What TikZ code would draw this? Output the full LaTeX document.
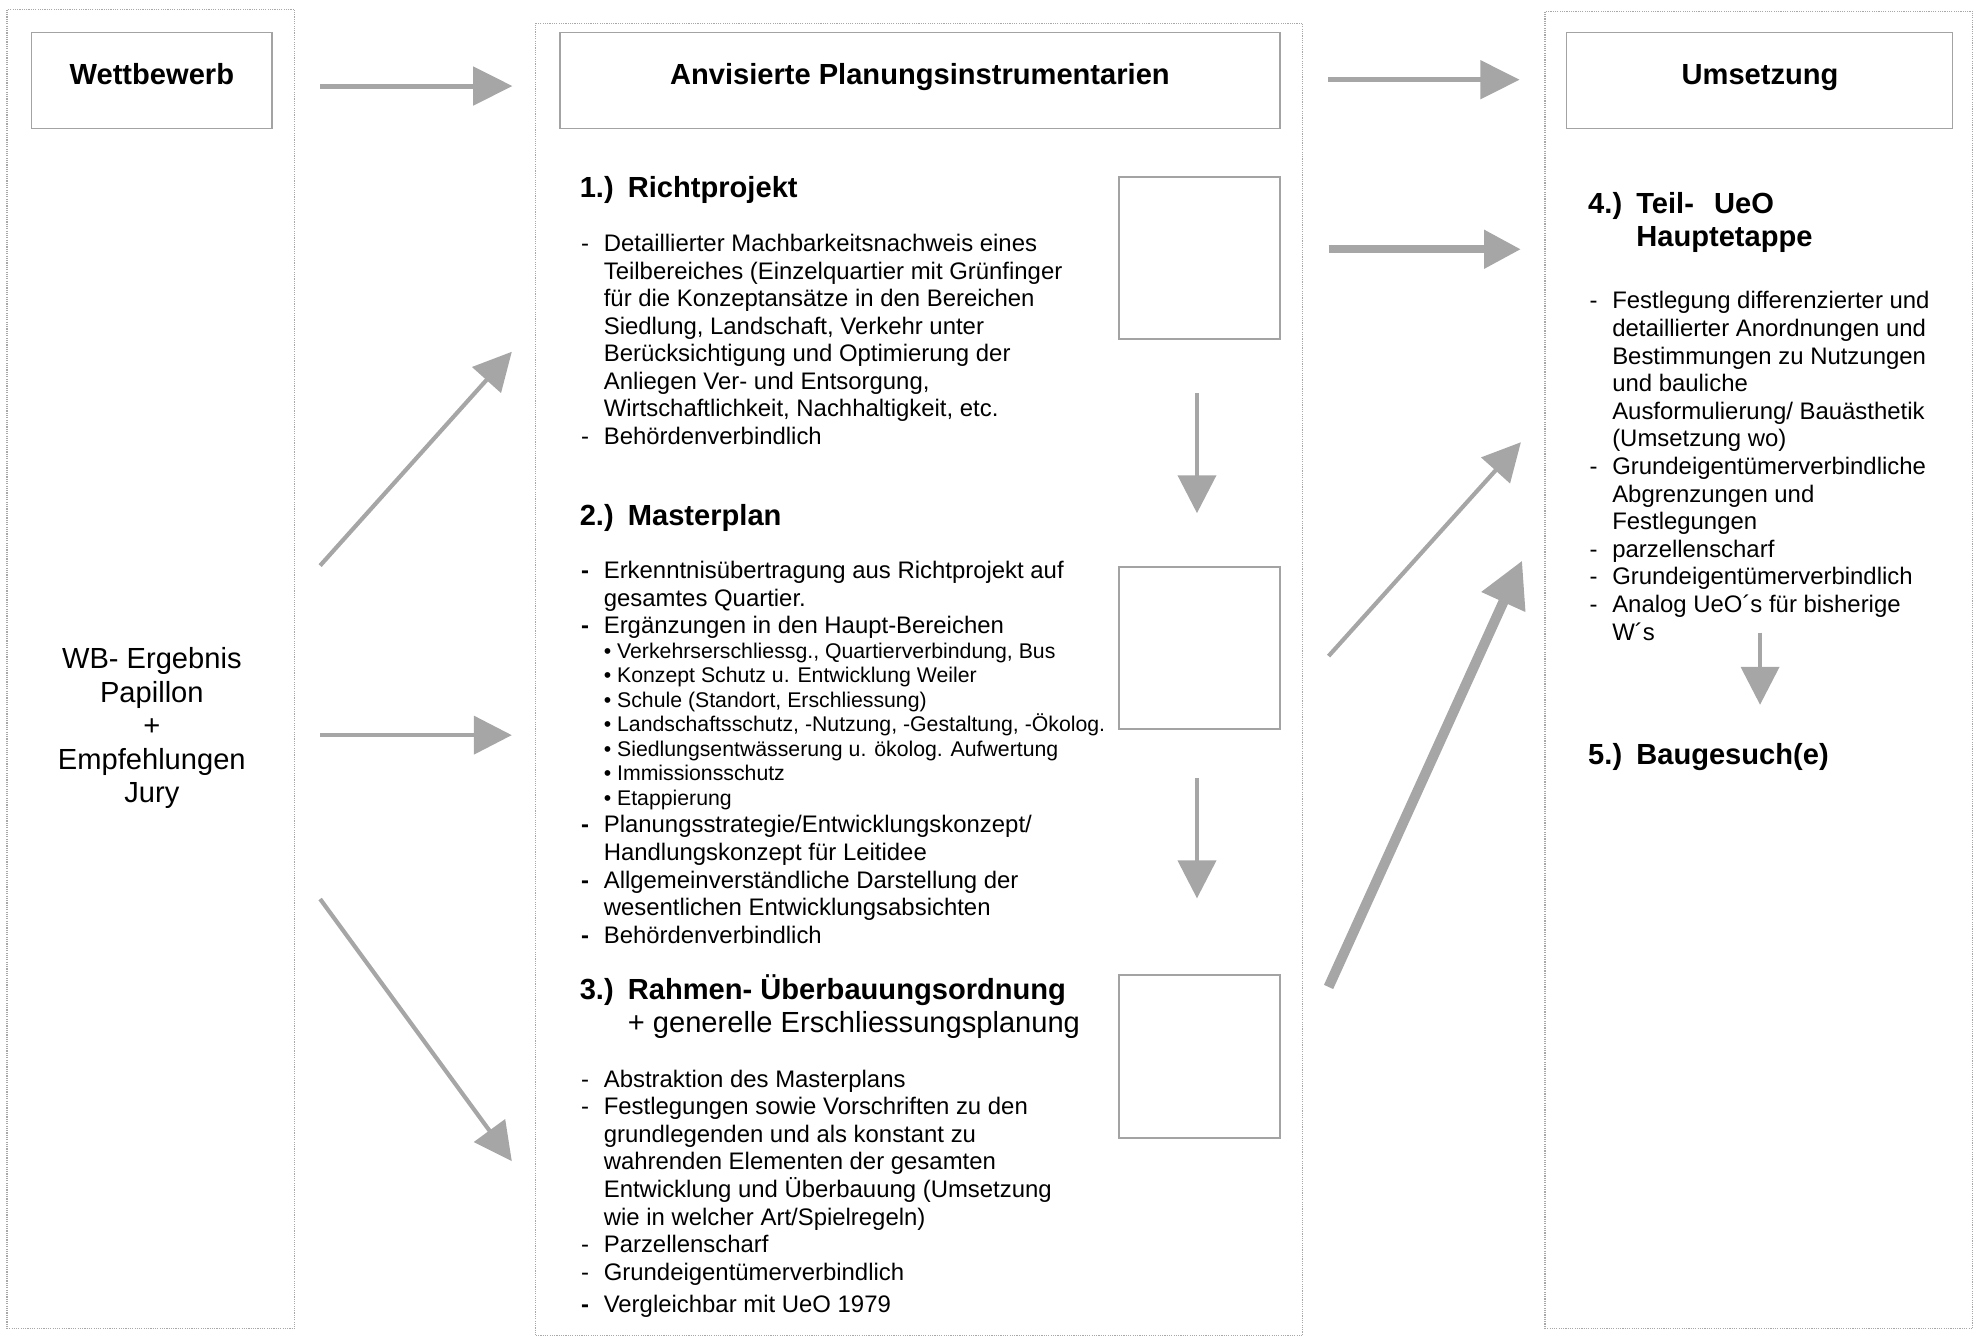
\documentclass[tikz,border=0pt]{standalone}
\usepackage{fontspec}
\setmainfont{Liberation Sans}
\usetikzlibrary{arrows.meta}
\definecolor{arrowgray}{HTML}{A6A6A6}
\definecolor{boxgray}{HTML}{A3A3A3}
\definecolor{dotgray}{HTML}{A8A8A8}
\newcommand{\dashit}{\makebox[18pt][l]{-}}
\newcommand{\bdashit}{\makebox[18pt][l]{\textbf{-}}}
\newcommand{\contit}{\makebox[18pt]{}}
\newcommand{\numlab}[1]{\makebox[38pt][l]{#1}}
\begin{document}
\begin{tikzpicture}[x=1pt,y=-1pt,
  container/.style={draw=dotgray, line width=0.9pt, dash pattern=on 0.9pt off 0.9pt, inner sep=0, outer sep=0},
  titlebox/.style={draw=boxgray, line width=1.2pt, inner sep=0, minimum height=76pt},
  sqbox/.style={draw=boxgray, line width=1.6pt, minimum width=127.5pt, minimum height=128.5pt, inner sep=0},
  titletext/.style={font=\fontsize{23}{26.5}\selectfont\bfseries, anchor=base, inner sep=0},
  headtext/.style={font=\fontsize{23}{26.5}\selectfont\bfseries, anchor=base west, inner sep=0},
  headplain/.style={font=\fontsize{23}{26.5}\selectfont, anchor=base west, inner sep=0},
  bodytext/.style={font=\fontsize{18.9}{21.8}\selectfont, align=left, anchor=north west, inner sep=0},
  bodyline/.style={font=\fontsize{18.9}{21.8}\selectfont, anchor=base west, inner sep=0},
  smalltext/.style={font=\fontsize{16.8}{19.4}\selectfont, align=left, anchor=north west, inner sep=0},
  lefttext/.style={font=\fontsize{23}{26.6}\selectfont, align=center, anchor=north, inner sep=0},
  arr/.style={color=arrowgray, line width=3.3pt, -{Triangle[length=30pt,width=30pt]}},
  arrtop/.style={color=arrowgray, line width=4pt, -{Triangle[length=31pt,width=30pt]}},
  arrthick/.style={color=arrowgray, line width=6.5pt, -{Triangle[length=29pt,width=29pt]}},
  arrheavy/.style={color=arrowgray, line width=8pt, -{Triangle[length=36pt,width=36pt]}}
]
\useasboundingbox (0,0) rectangle (1568,1057.4);

% containers
\node[container, minimum width=227.5pt, minimum height=1042.5pt] (leftcol) at (119.25,528.75) {};
\node[container, minimum width=606pt, minimum height=1037pt] (midcol) at (726.5,537) {};
\node[container, minimum width=338pt, minimum height=1041pt] (rightcol) at (1390,529.5) {};

% title boxes
\node[titlebox, minimum width=190pt] (wettbox) at (120,63.5) {};
\node[titlebox, minimum width=569pt] (anvbox) at (727,63.5) {};
\node[titlebox, minimum width=305pt] (umsbox) at (1390.5,63.5) {};
\node[titletext] (wett) at (120,67) {Wettbewerb};
\node[titletext] (anv) at (727,67) {Anvisierte Planungsinstrumentarien};
\node[titletext] (ums) at (1391,67) {Umsetzung};

% square boxes
\node[sqbox] (sq1) at (947.75,203.75) {};
\node[sqbox] (sq2) at (947.75,512.25) {};
\node[sqbox] (sq3) at (947.75,835) {};

% left text
\node[lefttext] (wb) at (120,509.4) {\strut WB- Ergebnis\\Papillon\\+\\Empfehlungen\\Jury};

% section 1
\node[headtext] (h1) at (458,156) {\numlab{1.)}Richtprojekt};
\node[bodytext] (l1) at (459,183.24) {\strut\dashit Detaillierter Machbarkeitsnachweis eines\\
\contit Teilbereiches (Einzelquartier mit Grünfinger\\
\contit für die Konzeptansätze in den Bereichen\\
\contit Siedlung, Landschaft, Verkehr unter\\
\contit Berücksichtigung und Optimierung der\\
\contit Anliegen Ver- und Entsorgung,\\
\contit Wirtschaftlichkeit, Nachhaltigkeit, etc.\\
\dashit Behördenverbindlich};

% section 2
\node[headtext] (h2) at (458,415) {\numlab{2.)}Masterplan};
\node[bodytext] (l2a) at (459,441.74) {\strut\bdashit Erkenntnisübertragung aus Richtprojekt auf\\
\contit gesamtes Quartier.\\
\bdashit Ergänzungen in den Haupt-Bereichen};
\node[smalltext] (l2s) at (477,506.42) {\strut • Verkehrserschliessg., Quartierverbindung, Bus\\
• Konzept Schutz u. Entwicklung Weiler\\
• Schule (Standort, Erschliessung)\\
• Landschaftsschutz, -Nutzung, -Gestaltung, -Ökolog.\\
• Siedlungsentwässerung u. ökolog. Aufwertung\\
• Immissionsschutz\\
• Etappierung};
\node[bodytext] (l2b) at (459,642.74) {\strut\bdashit Planungsstrategie/Entwicklungskonzept/\\
\contit Handlungskonzept für Leitidee\\
\bdashit Allgemeinverständliche Darstellung der\\
\contit wesentlichen Entwicklungsabsichten\\
\bdashit Behördenverbindlich};

% section 3
\node[headtext] (h3) at (458,790) {\numlab{3.)}Rahmen- Überbauungsordnung};
\node[headplain] (h3b) at (496,816) {+ generelle Erschliessungsplanung};
\node[bodytext] (l3) at (459,843.74) {\strut\dashit Abstraktion des Masterplans\\
\dashit Festlegungen sowie Vorschriften zu den\\
\contit grundlegenden und als konstant zu\\
\contit wahrenden Elementen der gesamten\\
\contit Entwicklung und Überbauung (Umsetzung\\
\contit wie in welcher Art/Spielregeln)\\
\dashit Parzellenscharf\\
\dashit Grundeigentümerverbindlich};
\node[bodyline] (l3z) at (459,1037) {\bdashit Vergleichbar mit UeO 1979};

% right column
\node[headtext] (h4) at (1255,169) {\numlab{4.)}Teil-\hspace{16pt}UeO};
\node[headtext] (h4b) at (1293,195) {Hauptetappe};
\node[bodytext] (l4) at (1256,228.74) {\strut\dashit Festlegung differenzierter und\\
\contit detaillierter Anordnungen und\\
\contit Bestimmungen zu Nutzungen\\
\contit und bauliche\\
\contit Ausformulierung/ Bauästhetik\\
\contit (Umsetzung wo)\\
\dashit Grundeigentümerverbindliche\\
\contit Abgrenzungen und\\
\contit Festlegungen\\
\dashit parzellenscharf\\
\dashit Grundeigentümerverbindlich\\
\dashit Analog UeO´s für bisherige\\
\contit W´s};
\node[headtext] (h5) at (1255,604) {\numlab{5.)}Baugesuch(e)};

% arrow end points
\coordinate (t1s) at (253,68);      \coordinate (t1e) at (405,68);
\coordinate (t2s) at (1049.5,63);   \coordinate (t2e) at (1201,63);
\coordinate (la1s) at (253,447);    \coordinate (la1e) at (404.5,278);
\coordinate (la2s) at (253,581);    \coordinate (la2e) at (404.5,581);
\coordinate (la3s) at (253,710.5);  \coordinate (la3e) at (404.5,917.7);
\coordinate (ra1s) at (1050,197);   \coordinate (ra1e) at (1202,197);
\coordinate (ra2s) at (1050,518.5); \coordinate (ra2e) at (1202,349.5);
\coordinate (ra3s) at (1050,780);   \coordinate (ra3e) at (1203,443);
\coordinate (d1s) at (946,310.6);   \coordinate (d1e) at (946,405.6);
\coordinate (d2s) at (946,615);     \coordinate (d2e) at (946,710);
\coordinate (d3s) at (1391,500);    \coordinate (d3e) at (1391,557);

\draw[arrtop] (t1s) -- (t1e);
\draw[arrtop] (t2s) -- (t2e);
\draw[arr] (la1s) -- (la1e);
\draw[arr] (la2s) -- (la2e);
\draw[arr] (la3s) -- (la3e);
\draw[arrthick] (ra1s) -- (ra1e);
\draw[arr] (ra2s) -- (ra2e);
\draw[arrheavy] (ra3s) -- (ra3e);
\draw[arr] (d1s) -- (d1e);
\draw[arr] (d2s) -- (d2e);
\draw[arr] (d3s) -- (d3e);
\end{tikzpicture}
\end{document}
